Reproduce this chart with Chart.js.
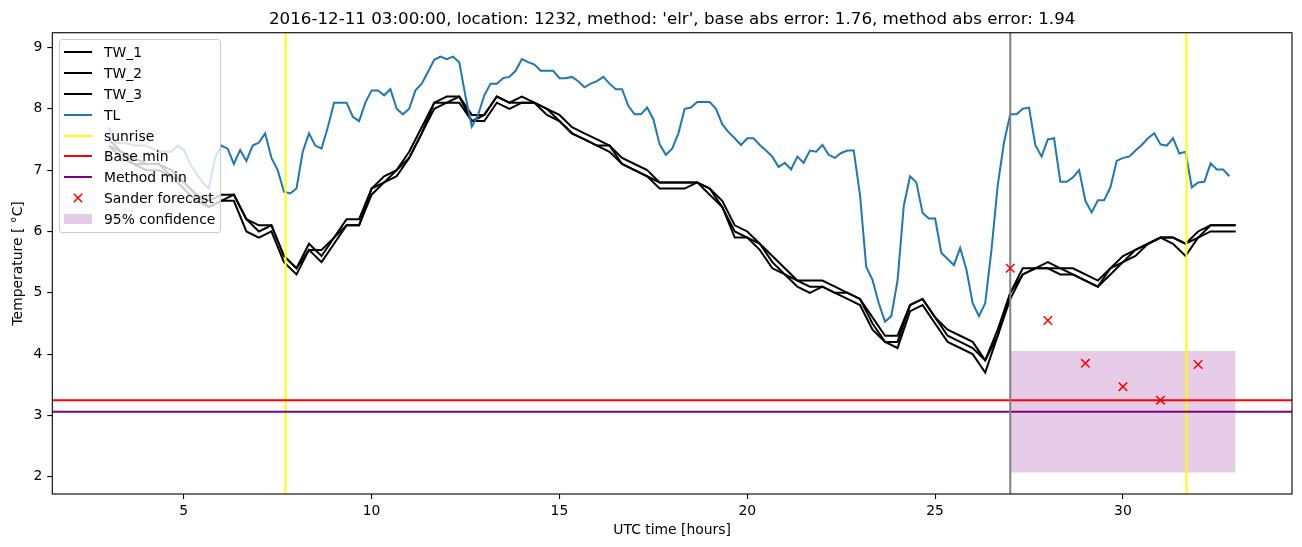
<!DOCTYPE html>
<html>
<head>
<meta charset="utf-8">
<script src="https://cdn.jsdelivr.net/npm/chart.js@4.4.1/dist/chart.umd.min.js"></script>
<style>
  html, body { margin: 0; padding: 0; background: #fff; }
  #wrap { position: relative; width: 1302px; height: 547px; }
  #legend {
    position: absolute; left: 59px; top: 39px; width: 162px; height: 194px;
    box-sizing: border-box; background: rgba(255,255,255,0.8);
    border: 1px solid #cccccc; border-radius: 3px;
    font-family: "DejaVu Sans", sans-serif; font-size: 13.9px; color: #000;
  }
  .row { position: absolute; left: 0; width: 100%; height: 20px; }
  .row .txt { position: absolute; left: 44px; top: 1px; line-height: 18px; white-space: nowrap; }
  .row .hl { position: absolute; left: 4px; top: 9px; width: 28px; height: 2px; }
  .row .hp { position: absolute; left: 4px; top: 5px; width: 28px; height: 10px; }
  .row svg { position: absolute; left: 4px; top: 0; }
</style>
</head>
<body>
<div id="wrap">
  <canvas id="myChart" width="1302" height="547"></canvas>
  <div id="legend"></div>
</div>
<script>
// TL: every 10 minutes from 03:00
const tl = [
  7.7, 7.45, 7.44, 7.44, 7.4, 7.4,
  7.4, 7.35, 7.3, 7.3, 7.3, 7.4,
  7.33, 7.1, 6.95, 6.8, 6.7, 7.2,
  7.4, 7.35, 7.1, 7.33, 7.15, 7.4,
  7.45, 7.6, 7.2, 7.0, 6.65, 6.62,
  6.7, 7.3, 7.6, 7.4, 7.35, 7.7,
  8.1, 8.1, 8.1, 7.87, 7.8, 8.1,
  8.3, 8.3, 8.22, 8.32, 8.0, 7.91,
  8.0, 8.3, 8.41, 8.6, 8.8, 8.85,
  8.81, 8.85, 8.76, 8.2, 7.71, 7.9,
  8.22, 8.41, 8.41, 8.5, 8.52, 8.62,
  8.81, 8.76, 8.72, 8.62, 8.62, 8.62,
  8.5, 8.5, 8.52, 8.45, 8.35, 8.41,
  8.45, 8.52, 8.41, 8.32, 8.32, 8.05,
  7.91, 7.91, 8.02, 7.83, 7.42, 7.25,
  7.35, 7.6, 8.0, 8.02, 8.11, 8.11,
  8.11, 8.0, 7.75, 7.62, 7.52, 7.41,
  7.52, 7.52, 7.41, 7.32, 7.22, 7.05,
  7.12, 7.01, 7.22, 7.12, 7.32, 7.3,
  7.41, 7.25, 7.2, 7.28, 7.32, 7.32,
  6.6, 5.42, 5.21, 4.83, 4.53, 4.62,
  5.2, 6.42, 6.9, 6.8, 6.3, 6.21,
  6.21, 5.65, 5.55, 5.45, 5.73, 5.38,
  4.83, 4.62, 4.83, 5.7, 6.75, 7.45,
  7.91, 7.91, 8.0, 8.02, 7.41, 7.22,
  7.5, 7.52, 6.81, 6.81, 6.88, 7.0,
  6.5, 6.31, 6.51, 6.51, 6.72, 7.15,
  7.2, 7.22, 7.32, 7.41, 7.52, 7.6,
  7.42, 7.4, 7.52, 7.27, 7.3, 6.72,
  6.8, 6.81, 7.11, 7.01, 7.01, 6.9
];

// TW_1..3: every 20 minutes from 03:00
const tw1 = [
  7.5, 7.3, 7.2, 7.1, 7.1, 7.0,  6.8, 6.6, 6.5, 6.6, 6.6, 6.2,
  6.1, 6.1, 5.6, 5.4, 5.8, 5.6,  5.9, 6.2, 6.2, 6.7, 6.9, 7.0,
  7.3, 7.7, 8.1, 8.2, 8.2, 7.9,  7.9, 8.2, 8.1, 8.2, 8.1, 8.0,
  7.9, 7.7, 7.6, 7.5, 7.4, 7.2,  7.1, 7.0, 6.8, 6.8, 6.8, 6.8,
  6.7, 6.5, 6.1, 6.0, 5.8, 5.6,  5.4, 5.2, 5.2, 5.2, 5.1, 5.0,
  4.9, 4.6, 4.3, 4.3, 4.8, 4.9,  4.6, 4.4, 4.3, 4.2, 3.9, 4.4,
  5.0, 5.4, 5.4, 5.5, 5.4, 5.4,  5.3, 5.2, 5.4, 5.6, 5.7, 5.8,
  5.9, 5.9, 5.8, 6.0, 6.1, 6.1,  6.1
];
const tw2 = [
  7.4, 7.3, 7.1, 7.1, 7.1, 6.9,  6.8, 6.6, 6.4, 6.5, 6.6, 6.2,
  6.0, 6.1, 5.6, 5.4, 5.7, 5.7,  5.9, 6.1, 6.1, 6.7, 6.8, 7.0,
  7.2, 7.6, 8.1, 8.1, 8.2, 7.8,  7.9, 8.2, 8.1, 8.1, 8.1, 8.0,
  7.8, 7.6, 7.5, 7.4, 7.4, 7.1,  7.0, 6.9, 6.8, 6.8, 6.8, 6.8,
  6.7, 6.4, 6.0, 5.9, 5.8, 5.5,  5.3, 5.2, 5.1, 5.1, 5.0, 5.0,
  4.9, 4.5, 4.2, 4.2, 4.8, 4.9,  4.6, 4.3, 4.2, 4.1, 3.9, 4.3,
  5.0, 5.3, 5.4, 5.4, 5.4, 5.3,  5.2, 5.1, 5.4, 5.5, 5.7, 5.8,
  5.9, 5.9, 5.8, 5.9, 6.1, 6.1,  6.1
];
const tw3 = [
  7.4, 7.2, 7.1, 7.0, 7.0, 6.9,  6.7, 6.5, 6.4, 6.5, 6.5, 6.0,
  5.9, 6.0, 5.5, 5.3, 5.7, 5.5,  5.8, 6.1, 6.1, 6.6, 6.8, 6.9,
  7.2, 7.6, 8.0, 8.1, 8.1, 7.8,  7.8, 8.1, 8.0, 8.1, 8.1, 7.9,
  7.8, 7.6, 7.5, 7.4, 7.3, 7.1,  7.0, 6.9, 6.7, 6.7, 6.7, 6.8,
  6.6, 6.4, 5.9, 5.9, 5.7, 5.4,  5.3, 5.1, 5.0, 5.1, 5.0, 4.9,
  4.8, 4.4, 4.2, 4.1, 4.7, 4.8,  4.5, 4.2, 4.1, 4.0, 3.7, 4.3,
  4.9, 5.3, 5.4, 5.4, 5.3, 5.3,  5.2, 5.1, 5.3, 5.5, 5.6, 5.8,
  5.9, 5.8, 5.6, 5.9, 6.0, 6.0,  6.0
];

const sanderHours = [27, 28, 29, 30, 31, 32];
const sanderTemps = [5.40, 4.55, 3.85, 3.47, 3.25, 3.83];

const sunriseHours = [7.71, 31.69];
const nowHour = 27.0;
const baseMin = 3.25;
const methodMin = 3.06;
const confHours = [27, 33];
const confLow = 2.07;
const confHigh = 4.05;

const xRange = [1.5, 34.5];
const yRange = [1.72, 9.24];
const xTicks = [5, 10, 15, 20, 25, 30];
const yTicks = [2, 3, 4, 5, 6, 7, 8, 9];

const titleText = "2016-12-11 03:00:00, location: 1232, method: 'elr', base abs error: 1.76, method abs error: 1.94";

function hourGrid(start, stepMin, count) {
  const out = [];
  for (let i = 0; i < count; i++) out.push(start + i * stepMin / 60);
  return out;
}
const tlHours = hourGrid(3, 10, tl.length);
const twHours = hourGrid(3, 20, tw1.length);

const pts = (xs, ys) => xs.map((x, i) => ({ x: x, y: ys[i] }));
const vline = x => [{ x: x, y: 0 }, { x: x, y: 12 }];
const hline = y => [{ x: -5, y: y }, { x: 40, y: y }];

const font = { family: 'DejaVu Sans', size: 13.9 };

const frame = {
  id: 'frame',
  afterDraw(chart) {
    const a = chart.chartArea, c = chart.ctx;
    c.save();
    c.strokeStyle = '#000';
    c.lineWidth = 1.1;
    c.strokeRect(a.left, a.top, a.right - a.left, a.bottom - a.top);
    c.restore();
  }
};

const ctx = document.getElementById('myChart');
const chart = new Chart(ctx, {
  type: 'line',
  data: {
    datasets: [
      { label: 'conf low', data: pts(confHours, [confLow, confLow]), borderWidth: 0, borderColor: 'rgba(0,0,0,0)', fill: false, order: 21, legend: null },
      { label: '95% confidence', data: pts(confHours, [confHigh, confHigh]), borderWidth: 0, borderColor: 'rgba(0,0,0,0)',
        backgroundColor: 'rgba(128,0,128,0.2)', fill: '-1', order: 20, legend: 'patch' },
      { label: 'TW_1', data: pts(twHours, tw1), borderColor: '#000', order: 10, legend: 'line' },
      { label: 'TW_2', data: pts(twHours, tw2), borderColor: '#000', order: 9, legend: 'line' },
      { label: 'TW_3', data: pts(twHours, tw3), borderColor: '#000', order: 8, legend: 'line' },
      { label: 'TL', data: pts(tlHours, tl), borderColor: '#1f77b4', order: 7, legend: 'line' },
      { label: 'sunrise', data: vline(sunriseHours[0]), borderColor: '#ffff00', order: 6, clip: 0, legend: 'line' },
      { label: 'sunrise 2', data: vline(sunriseHours[1]), borderColor: '#ffff00', order: 5, clip: 0, legend: null },
      { label: 'Base min', data: hline(baseMin), borderColor: '#ff0000', order: 4, clip: 0, legend: 'line' },
      { label: 'Method min', data: hline(methodMin), borderColor: '#800080', order: 3, clip: 0, legend: 'line' },
      { label: 'now', data: vline(nowHour), borderColor: '#808080', order: 2, clip: 0, legend: null },
      { label: 'Sander forecast', data: pts(sanderHours, sanderTemps), showLine: false, pointStyle: 'crossRot',
        pointRadius: 6, pointBorderColor: '#ff0000', pointBorderWidth: 1.5, borderColor: '#ff0000', order: 1, legend: 'cross' }
    ]
  },
  options: {
    responsive: false,
    animation: false,
    events: [],
    layout: { padding: { left: 10, right: 10, top: 10, bottom: 8 } },
    elements: {
      line: { borderWidth: 2, tension: 0, fill: false },
      point: { radius: 0, hoverRadius: 0 }
    },
    plugins: {
      legend: { display: false },
      tooltip: { enabled: false },
      title: {
        display: true, text: titleText, fullSize: false, color: '#000',
        font: { family: 'DejaVu Sans', size: 16.7, weight: 'normal' },
        padding: { top: 0, bottom: 2.7 }
      }
    },
    scales: {
      x: {
        type: 'linear', min: xRange[0], max: xRange[1],
        afterBuildTicks: s => { s.ticks = xTicks.map(v => ({ value: v })); },
        afterFit: s => { s.height = 45; },
        grid: { drawOnChartArea: false, drawTicks: true, tickLength: 5, color: '#000', lineWidth: 1.1 },
        border: { display: false },
        ticks: { color: '#000', font: font, padding: 4, maxRotation: 0 },
        title: { display: true, text: 'UTC time [hours]', color: '#000', font: font, padding: 0 }
      },
      y: {
        type: 'linear', min: yRange[0], max: yRange[1],
        afterBuildTicks: s => { s.ticks = yTicks.map(v => ({ value: v })); },
        afterFit: s => { s.width = 42.3; },
        grid: { drawOnChartArea: false, drawTicks: true, tickLength: 5, color: '#000', lineWidth: 1.1 },
        border: { display: false },
        ticks: { color: '#000', font: font, padding: 5 },
        title: { display: true, text: 'Temperature [ °C]', color: '#000', font: font, padding: 0 }
      }
    }
  },
  plugins: [frame]
});

// matplotlib-like legend inside the axes, built from the datasets
const legendOrder = ['TW_1', 'TW_2', 'TW_3', 'TL', 'sunrise', 'Base min', 'Method min', 'Sander forecast', '95% confidence'];
const box = document.getElementById('legend');
legendOrder.forEach((name, i) => {
  const ds = chart.data.datasets.find(d => d.label === name);
  const row = document.createElement('div');
  row.className = 'row';
  row.style.top = (2.4 + 20.8 * i) + 'px';
  let handle;
  if (ds.legend === 'line') {
    handle = '<div class="hl" style="background:' + ds.borderColor + '"></div>';
  } else if (ds.legend === 'patch') {
    handle = '<div class="hp" style="background:' + ds.backgroundColor + '"></div>';
  } else {
    handle = '<svg width="28" height="20"><path d="M9.8 5.8 L18.2 14.2 M18.2 5.8 L9.8 14.2" stroke="' +
      ds.pointBorderColor + '" stroke-width="1.5"/></svg>';
  }
  row.innerHTML = handle + '<span class="txt">' + ds.label + '</span>';
  box.appendChild(row);
});
</script>
</body>
</html>
